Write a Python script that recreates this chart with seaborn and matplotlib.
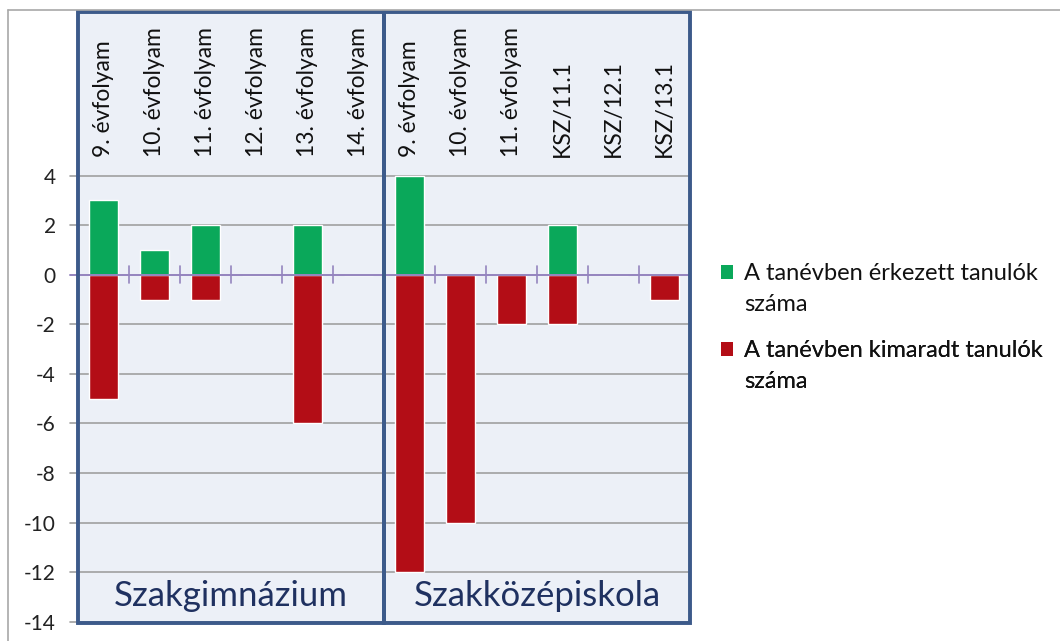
import matplotlib
matplotlib.use("Agg")
import matplotlib.pyplot as plt
from matplotlib.patches import Rectangle, Patch
from matplotlib.lines import Line2D
import seaborn as sns
import pandas as pd

# ---- data ----
groups = ["Szakgimnázium", "Szakközépiskola"]
labels_g1 = ["9. évfolyam", "10. évfolyam", "11. évfolyam", "12. évfolyam", "13. évfolyam", "14. évfolyam"]
labels_g2 = ["9. évfolyam", "10. évfolyam", "11. évfolyam", "KSZ/11.1", "KSZ/12.1", "KSZ/13.1"]
arrived_g1 = [3, 1, 2, 0, 2, 0]
arrived_g2 = [4, 0, 0, 2, 0, 0]
left_g1 = [-5, -1, -1, 0, -6, 0]
left_g2 = [-12, -10, -2, -2, 0, -1]
series_names = ["A tanévben érkezett tanulók száma", "A tanévben kimaradt tanulók száma"]
yticks = [4, 2, 0, -2, -4, -6, -8, -10, -12, -14]

sns.set_theme(style="white")
plt.rcParams["font.family"] = ["Lato", "DejaVu Sans"]

labels = labels_g1 + labels_g2
keys = [f"{i}" for i in range(len(labels))]
df = pd.DataFrame({
    "key": keys * 2,
    "value": arrived_g1 + arrived_g2 + left_g1 + left_g2,
    "series": [series_names[0]] * len(keys) + [series_names[1]] * len(keys),
})

green = "#0AA85A"
red = "#B30D16"
navy = "#3C5A8A"
fill = "#ECF0F7"

fig = plt.figure(figsize=(10.6, 6.41), dpi=100)
ax = fig.add_axes([78 / 1060, 1 - 623 / 641, (690 - 78) / 1060, (623 - 12) / 641])
ax.set_facecolor("none")

ymin, ymax = -14.05, 10.6
n = len(labels)

# group boxes
for gi in range(2):
    ax.add_patch(Rectangle((gi * 6 - 0.5, ymin), 6, ymax - ymin, facecolor=fill,
                           edgecolor="none", zorder=0))
# gridlines
for yt in yticks:
    if yt == 0:
        continue
    ax.plot([-0.66, n - 0.5], [yt, yt], color="#A0A0A0", lw=1.2, zorder=1, clip_on=False)

sns.barplot(data=df, x="key", y="value", hue="series", order=keys,
            palette=[green, red], dodge=False, width=0.55, saturation=1,
            ax=ax, zorder=2, legend=False)

# zero line with ticks at category boundaries
ax.plot([-0.66, n - 0.5], [0, 0], color="#9484BE", lw=1.4, zorder=3, clip_on=False)
for b in range(n):
    xb = b + 0.5
    ax.plot([xb, xb], [-0.35, 0.35], color="#9484BE", lw=1.2, zorder=3)

# group box borders
for gi in range(2):
    ax.add_patch(Rectangle((gi * 6 - 0.5, ymin), 6, ymax - ymin, facecolor="none",
                           edgecolor=navy, lw=2.8, zorder=5, clip_on=False))

ax.set_xlim(-0.5, n - 0.5)
ax.set_ylim(ymin, ymax)
ax.set_yticks(yticks)
ax.set_yticklabels([str(t) for t in yticks], fontsize=15, color="#222222")
ax.tick_params(axis="y", length=0, pad=16)
ax.set_xticks([])
ax.set_xlabel("")
ax.set_ylabel("")
for s in ax.spines.values():
    s.set_visible(False)

# category labels
for i, lab in enumerate(labels):
    ax.text(i, 4.75, lab, rotation=90, ha="center", va="bottom", fontsize=16.5,
            color="#111111", zorder=6)
# group labels
for gi, g in enumerate(groups):
    ax.text(gi * 6 + 2.5, -12.95, g, ha="center", va="center", fontsize=25,
            color="#1F3160", zorder=6)

# legend: marker beside the first line of each (wrapped) label
blank = Patch(facecolor="none", edgecolor="none")
leg_y = [0.5466, 0.4206]
for name, col, yy in zip(series_names, [green, red], leg_y):
    first, second = name.rsplit(" ", 1)
    lg = ax.legend([Patch(facecolor=col, edgecolor="none"), blank], [first, second],
                   loc="center left", bbox_to_anchor=(1.0507, yy), frameon=False,
                   fontsize=17, handlelength=0.52, handleheight=0.52, handletextpad=0.45,
                   labelspacing=0.39, borderpad=0, borderaxespad=0, labelcolor="#111111")
    ax.add_artist(lg)

# outer chart border
fig.add_artist(Line2D([8 / 1060, 1.0], [1 - 10 / 641, 1 - 10 / 641], color="#A8A8A8", lw=1.2))
fig.add_artist(Line2D([8 / 1060, 8 / 1060], [0, 1 - 10 / 641], color="#A8A8A8", lw=1.2))

fig.savefig("out.png", dpi=100)
